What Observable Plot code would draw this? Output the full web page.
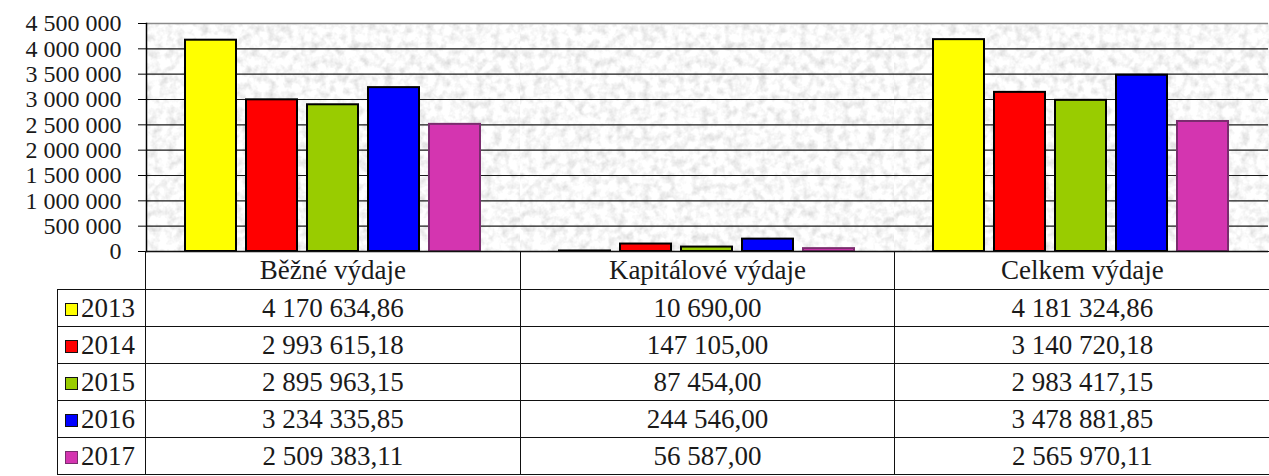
<!DOCTYPE html>
<html>
<head>
<meta charset="utf-8">
<script src="https://cdn.jsdelivr.net/npm/d3@7"></script>
<script src="https://cdn.jsdelivr.net/npm/@observablehq/plot@0.6"></script>
<style>
  html, body { margin: 0; padding: 0; background: white; }
  #wrap { position: relative; width: 1269px; height: 476px; overflow: hidden; font-family: "Liberation Serif", "Times New Roman", Times, Tinos, "DejaVu Serif", "Noto Serif", FreeSerif, serif; color: #1a1a1a; }
  #chart { position: absolute; left: 0; top: 0; }
  table { position: absolute; left: 57px; top: 251px; border-collapse: collapse; table-layout: fixed; font-size: 27px; font-family: inherit; }
  td { border: 1.5px solid #111; text-align: center; padding: 0; white-space: nowrap; }
  tr.head td { height: 37px; }
  tr.row td { height: 36px; }
  td.blank { border: none; }
  td.leg { text-align: left; padding-left: 7px; }
  td.last { border-right: none; }
  .sw { display: inline-block; width: 11px; height: 11px; border: 1.5px solid #111; margin-right: 3px; vertical-align: 1px; }
</style>
</head>
<body>
<div id="wrap"><div id="chart"></div></div>
<script>
// ---- data ----
const categories = ["Běžné výdaje", "Kapitálové výdaje", "Celkem výdaje"];
const years = ["2013", "2014", "2015", "2016", "2017"];
const bezne = [4170634.86, 2993615.18, 2895963.15, 3234335.85, 2509383.11];
const kapitalove = [10690.00, 147105.00, 87454.00, 244546.00, 56587.00];
const celkem = [4181324.86, 3140720.18, 2983417.15, 3478881.85, 2565970.11];
const yTicks = [0, 500000, 1000000, 1500000, 2000000, 2500000, 3000000, 3500000, 4000000, 4500000];

// ---- styles ----
const colors = ["#ffff00", "#ff0000", "#99cc00", "#0000ff", "#d435b0"];
const outline = ["#000000", "#000000", "#000000", "#000000", "#7a2d6e"];
const serifStack = "'Liberation Serif', 'Times New Roman', Times, Tinos, 'DejaVu Serif', 'Noto Serif', FreeSerif, serif";

const series = [bezne, kapitalove, celkem];
const rows = categories.flatMap((c, i) => years.map((y, j) => ({category: c, year: y, value: series[i][j]})));

const loc = d3.formatLocale({decimal: ",", thousands: " ", grouping: [3], currency: ["", ""]});
const fmtVal = loc.format(",.2f");
const fmtTick = loc.format(",d");
const yMax = yTicks[yTicks.length - 1];

const barOpts = {fx: "category", x: "year", y: "value", fill: "year", strokeWidth: 2};

const chart = Plot.plot({
  width: 1269,
  height: 253,
  marginLeft: 145,
  marginRight: 0,
  marginTop: 23,
  marginBottom: 2,
  style: {fontFamily: serifStack, fontSize: "24px", color: "#1a1a1a", background: "white", overflow: "visible"},
  fx: {domain: categories, padding: 0, axis: null},
  x: {domain: years, axis: null, paddingInner: 0.16, paddingOuter: 0.6},
  y: {domain: [0, yMax], axis: null},
  color: {domain: years, range: colors},
  marks: [
    Plot.frame({fill: "#e8e8e8"}),
    Plot.gridY(yTicks.filter(t => t > 0 && t < yMax), {stroke: "#1a1a1a", strokeOpacity: 1, strokeWidth: 1.2}),
    Plot.ruleY([yMax], {stroke: "#8a8a8a", strokeWidth: 1.5}),
    Plot.barY(rows, {...barOpts, filter: d => outline[years.indexOf(d.year)] === "#000000", stroke: "#000000"}),
    Plot.barY(rows, {...barOpts, filter: d => d.year === years[4], stroke: outline[4]}),
    Plot.ruleY([0], {stroke: "#000", strokeWidth: 1.5}),
    Plot.frame({anchor: "left", facetAnchor: "left", stroke: "#000", strokeWidth: 1.5}),
    Plot.axisY(yTicks, {tickFormat: fmtTick, tickSize: 8, tickPadding: 17, fontSize: 24, fontFamily: serifStack, stroke: "#000", label: null})
  ]
});

// granite-like texture for the plot background
const svg = d3.select(chart);
const defs = svg.insert("defs", ":first-child");
const f = defs.append("filter").attr("id", "granite").attr("x", 0).attr("y", 0).attr("width", 1).attr("height", 1);
f.append("feTurbulence").attr("type", "fractalNoise").attr("baseFrequency", 0.12).attr("numOctaves", 3).attr("seed", 4).attr("result", "n");
f.append("feColorMatrix").attr("in", "n").attr("type", "matrix")
  .attr("values", "0.6 0 0 0 0.64  0.6 0 0 0 0.64  0.6 0 0 0 0.64  0 0 0 0 1");
svg.selectAll("g[aria-label=frame] rect").filter(function() { return this.getAttribute("fill") === "#e8e8e8"; }).attr("filter", "url(#granite)");

document.getElementById("chart").appendChild(chart);

// ---- data table (legend + values) ----
const colW = (1269 - 145) / 3;
const table = d3.select("#wrap").append("table");
const cg = table.append("colgroup");
cg.append("col").style("width", (145 - 57) + "px");
categories.forEach(() => cg.append("col").style("width", colW + "px"));
table.style("width", (1269 - 57) + "px");
const head = table.append("tr").attr("class", "head");
head.append("td").attr("class", "blank");
categories.forEach((c, i) => head.append("td").attr("class", i === categories.length - 1 ? "last" : null).text(c));
years.forEach((y, j) => {
  const tr = table.append("tr").attr("class", "row");
  const td = tr.append("td").attr("class", "leg");
  td.append("span").attr("class", "sw").style("background", colors[j]).style("border-color", outline[j] === "#000000" ? "#111" : outline[j]);
  td.append("span").text(y);
  series.forEach((s, i) => tr.append("td").attr("class", i === series.length - 1 ? "last" : null).text(fmtVal(s[j])));
});
</script>
</body>
</html>
